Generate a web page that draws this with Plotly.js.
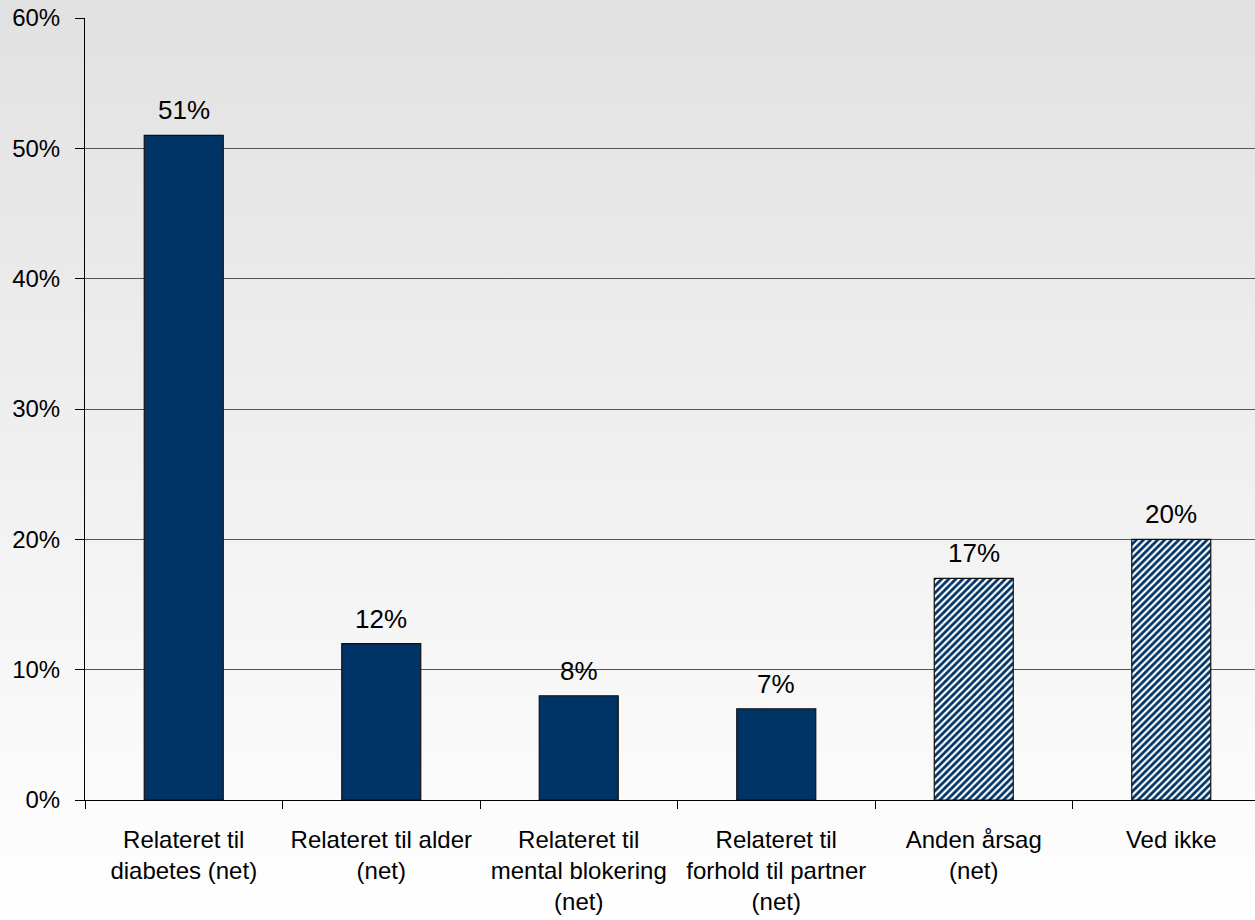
<!DOCTYPE html>
<html>
<head>
<meta charset="utf-8">
<script src="https://cdn.plot.ly/plotly-3.0.1.min.js"></script>
<style>
html, body { margin: 0; padding: 0; }
#chart { width: 1255px; height: 920px; background: linear-gradient(to bottom, #e1e1e1 0%, #ffffff 100%); }
</style>
</head>
<body>
<div id="chart"></div>
<script>
const categories = [
  "Relateret til<br>diabetes (net)",
  "Relateret til alder<br>(net)",
  "Relateret til<br>mental blokering<br>(net)",
  "Relateret til<br>forhold til partner<br>(net)",
  "Anden årsag<br>(net)",
  "Ved ikke"
];
const values = [51, 12, 8, 7, 17, 20];
const hatched = [false, false, false, false, true, true];
const yTicks = [0, 10, 20, 30, 40, 50, 60];

const navy = "#003366";
const keys = categories.map((c, i) => "c" + i);

const trace = {
  type: "bar",
  x: keys,
  y: values,
  width: 0.40,
  marker: {
    color: navy,
    line: { color: "#111111", width: 1.2 },
    pattern: {
      shape: hatched.map(h => h ? "/" : ""),
      fillmode: "overlay",
      fgcolor: "#ffffff",
      fgopacity: 1,
      size: 5,
      solidity: 0.45
    }
  },
  hoverinfo: "skip"
};

const annotations = values.map((v, i) => ({
  x: keys[i], y: v, xref: "x", yref: "y",
  text: v + "%", showarrow: false,
  yanchor: "bottom", yshift: 8,
  font: { family: "Liberation Sans, Arial, sans-serif", size: 26, color: "#000" }
}));

const layout = {
  width: 1255, height: 920,
  margin: { l: 85, r: 0, t: 18, b: 120 },
  paper_bgcolor: "rgba(0,0,0,0)",
  plot_bgcolor: "rgba(0,0,0,0)",
  font: { family: "Liberation Sans, Arial, sans-serif", size: 24, color: "#000" },
  showlegend: false,
  xaxis: {
    type: "category",
    range: [-0.5, 5.424],
    tickmode: "array",
    tickvals: keys,
    ticktext: categories,
    tickson: "boundaries",
    ticks: "outside", ticklen: 8, tickcolor: "#000", tickwidth: 1,
    showline: true, linecolor: "#000", linewidth: 1,
    showgrid: false, zeroline: false,
    ticklabelstandoff: 18,
    tickfont: { size: 24 }
  },
  yaxis: {
    range: [0, 60],
    tickmode: "array",
    tickvals: yTicks,
    ticktext: yTicks.map(t => t + "%"),
    ticks: "outside", ticklen: 9, tickcolor: "#000", tickwidth: 1,
    showline: true, linecolor: "#000", linewidth: 1,
    showgrid: true, gridcolor: "#555555", gridwidth: 1,
    zeroline: false,
    ticklabelstandoff: 10,
    tickfont: { size: 24 }
  },
  annotations: annotations
};

Plotly.newPlot("chart", [trace], layout, { displayModeBar: false, staticPlot: true });
</script>
</body>
</html>
